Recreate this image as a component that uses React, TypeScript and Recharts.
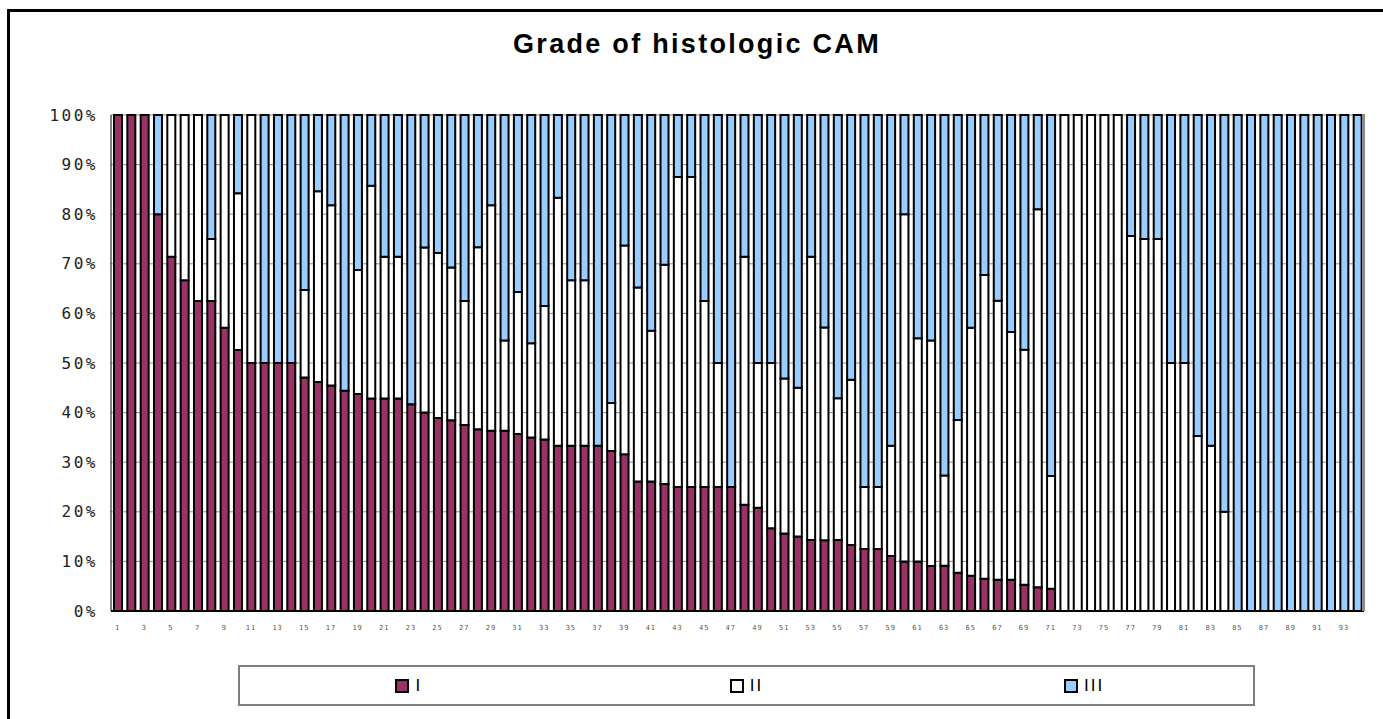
import { BarChart, Bar, XAxis, YAxis, CartesianGrid } from "recharts";

// case numbers along the x axis
const caseIds = [
  "1", "2", "3", "4", "5", "6", "7", "8", "9", "10",
  "11", "12", "13", "14", "15", "16", "17", "18", "19", "20",
  "21", "22", "23", "24", "25", "26", "27", "28", "29", "30",
  "31", "32", "33", "34", "35", "36", "37", "38", "39", "40",
  "41", "42", "43", "44", "45", "46", "47", "48", "49", "50",
  "51", "52", "53", "54", "55", "56", "57", "58", "59", "60",
  "61", "62", "63", "64", "65", "66", "67", "68", "69", "70",
  "71", "72", "73", "74", "75", "76", "77", "78", "79", "80",
  "81", "82", "83", "84", "85", "86", "87", "88", "89", "90",
  "91", "92", "93", "94",
];

// share of each grade per case, in percent
const gradeI = [
  100, 100, 100, 80, 71.4, 66.7, 62.5, 62.5, 57.1, 52.6,
  50, 50, 50, 50, 47.1, 46.2, 45.5, 44.4, 43.8, 42.9,
  42.9, 42.9, 41.7, 40, 38.9, 38.5, 37.5, 36.7, 36.4, 36.4,
  35.7, 35, 34.6, 33.3, 33.3, 33.3, 33.3, 32.3, 31.6, 26.1,
  26.1, 25.6, 25, 25, 25, 25, 25, 21.4, 20.8, 16.7,
  15.6, 15, 14.3, 14.3, 14.3, 13.3, 12.5, 12.5, 11.1, 10,
  10, 9.1, 9.1, 7.7, 7.1, 6.5, 6.3, 6.3, 5.3, 4.8,
  4.5, 0, 0, 0, 0, 0, 0, 0, 0, 0,
  0, 0, 0, 0, 0, 0, 0, 0, 0, 0,
  0, 0, 0, 0,
];

const gradeII = [
  0, 0, 0, 0, 28.6, 33.3, 37.5, 12.5, 42.9, 31.6,
  50, 0, 0, 0, 17.6, 38.5, 36.4, 0, 25, 42.9,
  28.6, 28.6, 0, 33.3, 33.3, 30.8, 25, 36.7, 45.5, 18.2,
  28.6, 19, 26.9, 50, 33.3, 33.3, 0, 9.7, 42.1, 39.1,
  30.4, 44.2, 62.5, 62.5, 37.5, 25, 0, 50, 29.2, 33.3,
  31.3, 30, 57.1, 42.9, 28.6, 33.3, 12.5, 12.5, 22.2, 70,
  45, 45.5, 18.2, 30.8, 50, 61.3, 56.3, 50, 47.4, 76.2,
  22.7, 100, 100, 100, 100, 100, 75.6, 75, 75, 50,
  50, 35.3, 33.3, 20, 0, 0, 0, 0, 0, 0,
  0, 0, 0, 0,
];

const gradeIII = [
  0, 0, 0, 20, 0, 0, 0, 25, 0, 15.8,
  0, 50, 50, 50, 35.3, 15.4, 18.2, 55.6, 31.3, 14.3,
  28.6, 28.6, 58.3, 26.7, 27.8, 30.8, 37.5, 26.7, 18.2, 45.5,
  35.7, 46, 38.5, 16.7, 33.3, 33.3, 66.7, 58.1, 26.3, 34.8,
  43.5, 30.2, 12.5, 12.5, 37.5, 50, 75, 28.6, 50, 50,
  53.1, 55, 28.6, 42.9, 57.1, 53.3, 75, 75, 66.7, 20,
  45, 45.5, 72.7, 61.5, 42.9, 32.3, 37.5, 43.8, 47.4, 19,
  72.7, 0, 0, 0, 0, 0, 24.4, 25, 25, 50,
  50, 64.7, 66.7, 80, 100, 100, 100, 100, 100, 100,
  100, 100, 100, 100,
];

const yTicks = [0, 0.1, 0.2, 0.3, 0.4, 0.5, 0.6, 0.7, 0.8, 0.9, 1];

const series = [
  { key: "I", color: "#993366" },
  { key: "II", color: "#FFFFFF" },
  { key: "III", color: "#99CCFF" },
];

const chartData = caseIds.map((id, i) => ({
  id,
  I: gradeI[i],
  II: gradeII[i],
  III: gradeIII[i],
}));

function ChartLegend() {
  return (
    <div
      style={{
        position: "absolute",
        left: 238,
        top: 665,
        width: 1017,
        height: 41,
        boxSizing: "border-box",
        border: "2px solid #7f7f7f",
        display: "flex",
        alignItems: "center",
        background: "#fff",
      }}
    >
      {series.map((s) => (
        <div
          key={s.key}
          style={{ flex: 1, display: "flex", justifyContent: "center", alignItems: "center" }}
        >
          <span
            style={{
              display: "inline-block",
              width: 14,
              height: 14,
              boxSizing: "border-box",
              border: "2px solid #000",
              background: s.color,
              marginRight: 6,
            }}
          />
          <span
            style={{
              fontFamily: "'Liberation Sans', Arial, sans-serif",
              fontSize: 17,
              letterSpacing: 2,
              color: "#000",
            }}
          >
            {s.key}
          </span>
        </div>
      ))}
    </div>
  );
}

export default function App() {
  return (
    <div
      style={{
        position: "absolute",
        left: 0,
        top: 0,
        width: 1383,
        height: 719,
        overflow: "hidden",
        background: "#fff",
      }}
    >
      {/* outer chart frame, cut off on the right and bottom */}
      <div
        style={{
          position: "absolute",
          left: 7,
          top: 9,
          width: 1400,
          height: 740,
          borderTop: "3px solid #000",
          borderLeft: "3px solid #000",
        }}
      />
      <div
        style={{
          position: "absolute",
          left: 0,
          top: 31,
          width: 1394,
          textAlign: "center",
          fontFamily: "'Liberation Sans', Arial, sans-serif",
          fontWeight: "bold",
          fontSize: 27,
          lineHeight: "27px",
          letterSpacing: 2.3,
          color: "#000",
        }}
      >
        Grade of histologic CAM
      </div>
      <div style={{ position: "absolute", left: 0, top: 0 }}>
        <BarChart
          width={1383}
          height={719}
          data={chartData}
          stackOffset="expand"
          margin={{ top: 115, right: 19, bottom: 78, left: 0 }}
          barSize={8}
        >
          <CartesianGrid vertical={false} stroke="#8a8a8a" strokeWidth={1} />
          <XAxis
            dataKey="id"
            interval={1}
            height={30}
            tickLine={false}
            tickSize={0}
            tickMargin={14}
            axisLine={{ stroke: "#000", strokeWidth: 2 }}
            tick={{ fontSize: 7, fill: "#555", fontFamily: "'DejaVu Sans Mono', monospace", letterSpacing: 1 }}
          />
          <YAxis
            width={111}
            domain={[0, 1]}
            ticks={yTicks}
            tickFormatter={(v: number) => `${Math.round(v * 100)}%`}
            tickLine={false}
            tickSize={0}
            tickMargin={13}
            axisLine={{ stroke: "#000", strokeWidth: 1 }}
            tick={{ fontSize: 16, fill: "#222", fontFamily: "'DejaVu Sans Mono', monospace", letterSpacing: 2.5 }}
          />
          {series.map((s) => (
            <Bar
              key={s.key}
              dataKey={s.key}
              stackId="grade"
              fill={s.color}
              stroke="#000"
              strokeWidth={2}
              isAnimationActive={false}
            />
          ))}
        </BarChart>
      </div>
      {/* grey edge on the right of the plot area */}
      <div
        style={{
          position: "absolute",
          left: 1362,
          top: 114,
          width: 3,
          height: 497,
          background: "#8c8c8c",
        }}
      />
      <ChartLegend />
    </div>
  );
}
